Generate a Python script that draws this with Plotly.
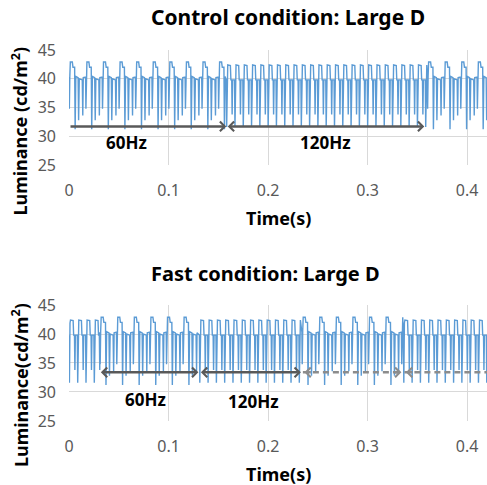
import plotly.graph_objects as go

# one 60 Hz frame (1/60 s): phase within the frame and luminance (cd/m2)
frame60_phase = [0.00, 0.02, 0.05, 0.08, 0.20, 0.24, 0.34, 0.37, 0.41, 0.55, 0.58, 0.62, 0.80, 0.83, 0.86]
frame60_lum = [40.3, 34.8, 40.5, 42.9, 42.9, 42.0, 42.0, 31.2, 40.4, 40.2, 32.8, 40.0, 39.8, 33.6, 40.2]

# one 120 Hz frame (1/120 s)
frame120_phase = [0.00, 0.05, 0.12, 0.18, 0.50, 0.56, 0.66, 0.71, 0.77]
frame120_lum = [39.8, 31.6, 41.9, 42.4, 42.3, 39.8, 39.8, 33.8, 39.8]

# refresh-rate schedule (start s, end s, Hz)
control_segments = [(0.0, 0.158, 60), (0.158, 0.360, 120), (0.360, 0.42, 60)]
fast_segments = [(0.0, 0.031, 120), (0.031, 0.131, 60), (0.131, 0.234, 120),
                 (0.234, 0.336, 60), (0.336, 0.42, 120)]

frames = {60: (frame60_phase, frame60_lum), 120: (frame120_phase, frame120_lum)}

x_ticks = [0, 0.1, 0.2, 0.3, 0.4]
y_ticks = [25, 30, 35, 40, 45]

FONT = "Noto Sans"
BLUE = "#5B9BD5"
DARK = "#595959"
LIGHT = "#8C8C8C"


def build_wave(segments):
    t_out, l_out = [], []
    for start, end, hz in segments:
        phase, lum = frames[hz]
        period = 1.0 / hz
        t0 = start
        while t0 < end - 1e-9:
            for p, v in zip(phase, lum):
                t = t0 + p * period
                if t < end:
                    t_out.append(t)
                    l_out.append(v)
            t0 += period
    return t_out, l_out


fig = go.Figure()

t_c, l_c = build_wave(control_segments)
t_f, l_f = build_wave(fast_segments)
fig.add_trace(go.Scatter(x=t_c, y=l_c, mode="lines", line=dict(color=BLUE, width=1.4),
                         xaxis="x", yaxis="y", showlegend=False))
fig.add_trace(go.Scatter(x=t_f, y=l_f, mode="lines", line=dict(color=BLUE, width=1.4),
                         xaxis="x2", yaxis="y2", showlegend=False))

axis_common = dict(range=[0, 0.42], tickvals=x_ticks, ticktext=["0", "0.1", "0.2", "0.3", "0.4"],
                   showgrid=True, gridcolor="#D9D9D9", gridwidth=1, zeroline=False,
                   showline=False, ticks="", ticklabelstandoff=14, automargin=False,
                   tickfont=dict(family=FONT, size=16, color=DARK), domain=[0, 1])
yaxis_common = dict(range=[25, 45], tickvals=y_ticks, showgrid=True, gridcolor="#D9D9D9",
                    gridwidth=1, zeroline=False, showline=False, ticks="", automargin=False,
                    ticklabelstandoff=12, tickfont=dict(family=FONT, size=16, color=DARK))

fig.update_layout(
    width=487, height=485,
    margin=dict(l=69, r=0, t=0, b=0, autoexpand=False),
    paper_bgcolor="white", plot_bgcolor="white",
    xaxis=dict(anchor="y", **axis_common),
    yaxis=dict(anchor="x", domain=[0.6598, 0.8969], **yaxis_common),
    xaxis2=dict(anchor="y2", **axis_common),
    yaxis2=dict(anchor="x2", domain=[0.1320, 0.3711], **yaxis_common),
)


def arrow(xr, yr, x0, x1, y, color, side):
    fig.add_annotation(xref=xr, yref=yr, axref=xr, ayref=yr, x=x1, y=y, ax=x0, ay=y,
                       text="", showarrow=True, arrowhead=4, startarrowhead=4,
                       arrowsize=0.75, startarrowsize=0.75, arrowwidth=2.5,
                       arrowcolor=color, arrowside=side, standoff=0, startstandoff=0)


def dashed(xr, yr, x0, x1, y, color):
    fig.add_shape(type="line", xref=xr, yref=yr, x0=x0, x1=x1, y0=y, y1=y,
                  line=dict(color=color, width=2.5, dash="6px,4px"), layer="above")


# control panel arrows
arrow("x", "y", 0.0, 0.158, 31.7, DARK, "end")
arrow("x", "y", 0.158, 0.357, 31.7, DARK, "end+start")

# fast panel arrows
arrow("x2", "y2", 0.0305, 0.130, 33.4, DARK, "end+start")
arrow("x2", "y2", 0.131, 0.233, 33.4, DARK, "end+start")
dashed("x2", "y2", 0.235, 0.334, 33.4, LIGHT)
arrow("x2", "y2", 0.235, 0.243, 33.4, LIGHT, "start")
arrow("x2", "y2", 0.326, 0.334, 33.4, LIGHT, "end")
dashed("x2", "y2", 0.337, 0.42, 33.4, LIGHT)
arrow("x2", "y2", 0.337, 0.345, 33.4, LIGHT, "start")

label_font = dict(family=FONT, size=17, color="black", weight="bold")
for xr, yr, x, y, txt in [("x", "y", 0.058, 28.9, "60Hz"), ("x", "y", 0.258, 28.9, "120Hz"),
                          ("x2", "y2", 0.077, 28.7, "60Hz"), ("x2", "y2", 0.185, 28.4, "120Hz")]:
    fig.add_annotation(xref=xr, yref=yr, x=x, y=y, text=txt, showarrow=False, font=label_font)

axis_title_font = dict(family=FONT, size=18, color="black", weight="bold")
texts = [
    (0.524, 0.965, "Control condition: Large D", dict(family=FONT, size=21, color="black", weight="bold"), 0),
    (0.469, 0.437, "Fast condition: Large D", dict(family=FONT, size=20, color="black", weight="bold"), 0),
    (0.5, 0.5505, "Time(s)", axis_title_font, 0),
    (0.5, 0.0227, "Time(s)", axis_title_font, 0),
    (-0.117, 0.7289, "Luminance (cd/m<sup>2</sup>)", axis_title_font, -90),
    (-0.117, 0.2062, "Luminance(cd/m<sup>2</sup>)", axis_title_font, -90),
]
for x, y, txt, f, ang in texts:
    fig.add_annotation(xref="paper", yref="paper", x=x, y=y, text=txt, showarrow=False,
                       font=f, textangle=ang, xanchor="center", yanchor="middle")

# drop the browser's default body margin so the figure sits at the page corner
fig.write_html("out.html", config={"displayModeBar": False},
               post_script="document.body.style.margin='0';")
